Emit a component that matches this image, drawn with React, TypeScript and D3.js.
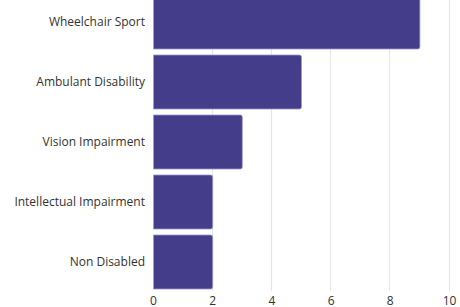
import React, { useEffect, useRef } from 'react';
import * as d3 from 'd3';

const categories = [
  'Wheelchair Sport',
  'Ambulant Disability',
  'Vision Impairment',
  'Intellectual Impairment',
  'Non Disabled',
];
const values = [9, 5, 3, 2, 2];
const xTicks = [0, 2, 4, 6, 8, 10];

const App: React.FC = () => {
  const svgRef = useRef<SVGSVGElement>(null);

  useEffect(() => {
    if (!svgRef.current) return;
    const width = 460;
    const height = 307;
    const svg = d3.select(svgRef.current);
    svg.selectAll('*').remove();

    const x = d3.scaleLinear().domain([0, 10]).range([153.5, 449.5]);
    const y = d3
      .scaleBand<string>()
      .domain(categories)
      .range([-8, 292])
      .paddingInner(0.1)
      .paddingOuter(0.05);

    // grid lines
    svg
      .append('g')
      .selectAll('line')
      .data(xTicks.filter((t) => t > 0))
      .join('line')
      .attr('x1', (d) => Math.round(x(d)) - 0.5)
      .attr('x2', (d) => Math.round(x(d)) - 0.5)
      .attr('y1', 0)
      .attr('y2', 291)
      .attr('stroke', '#e6e6e6')
      .attr('stroke-width', 1.2);

    // bars
    svg
      .append('g')
      .selectAll('path')
      .data(categories)
      .join('path')
      .attr('d', (d, i) => {
        const x0 = x(0);
        const x1 = x(values[i]);
        const y0 = y(d)!;
        const h = y.bandwidth();
        const r = 2;
        return `M${x0},${y0}H${x1 - r}Q${x1},${y0} ${x1},${y0 + r}V${y0 + h - r}Q${x1},${y0 + h} ${x1 - r},${y0 + h}H${x0}Z`;
      })
      .attr('fill', '#433d8a')
      .attr('stroke', '#9d98d2')
      .attr('stroke-width', 0.8);

    // category labels
    svg
      .append('g')
      .selectAll('text')
      .data(categories)
      .join('text')
      .attr('x', 145)
      .attr('y', (d) => y(d)! + y.bandwidth() / 2)
      .attr('dy', '0.35em')
      .attr('text-anchor', 'end')
      .attr('font-family', '"Open Sans", sans-serif')
      .attr('font-size', 12)
      .attr('fill', '#333')
      .text((d) => d);

    // x tick labels
    svg
      .append('g')
      .selectAll('text')
      .data(xTicks)
      .join('text')
      .attr('x', (d) => x(d))
      .attr('y', 300.5)
      .attr('dy', '0.35em')
      .attr('text-anchor', 'middle')
      .attr('font-family', '"Open Sans", sans-serif')
      .attr('font-size', 12)
      .attr('fill', '#333')
      .text((d) => String(d));

    svg.attr('width', width).attr('height', height);
  }, []);

  return (
    <div style={{ position: 'fixed', left: 0, top: 0, width: 460, height: 307, background: '#fff' }}>
      <svg ref={svgRef} width={460} height={307} style={{ display: 'block' }} />
    </div>
  );
};

export default App;
